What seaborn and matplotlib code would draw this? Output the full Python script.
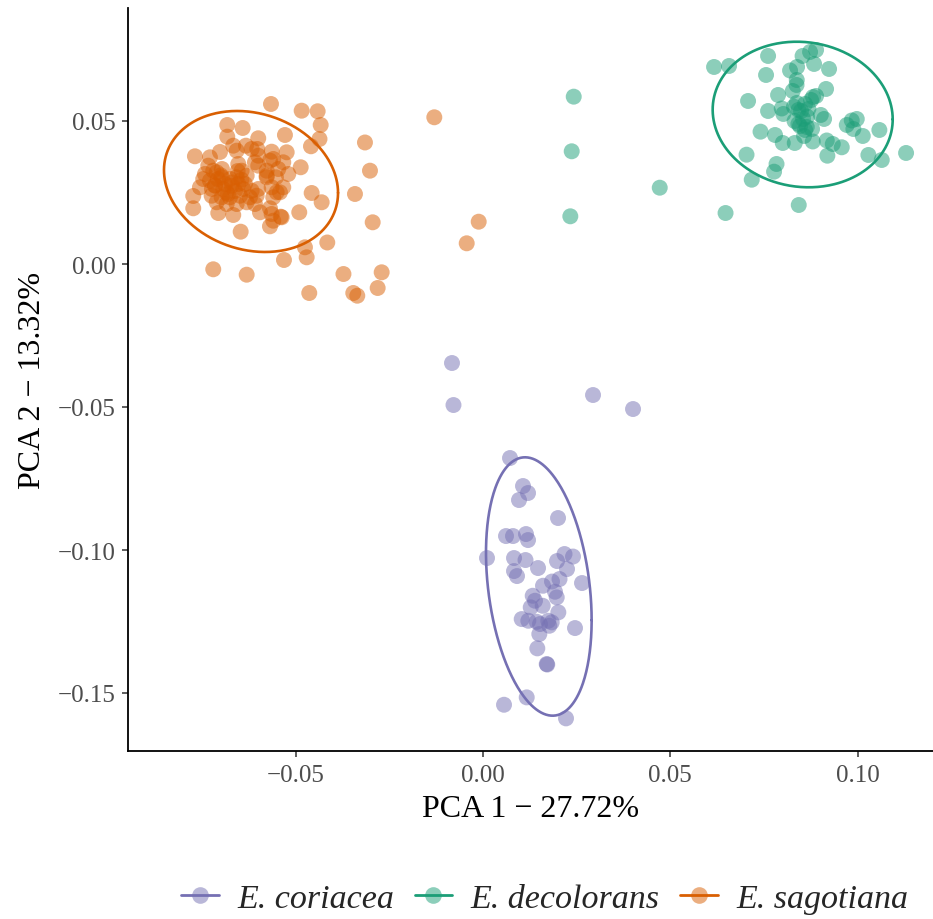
import numpy as np
import pandas as pd
import matplotlib
matplotlib.use("Agg")
import matplotlib.pyplot as plt
from matplotlib.lines import Line2D
from matplotlib.legend_handler import HandlerTuple
import seaborn as sns

# ---------------- data ----------------
species = ["E. coriacea", "E. decolorans", "E. sagotiana"]
colors = ["#7570B3", "#1B9E77", "#D95F02"]

coriacea_x = [-0.00828, -0.00788, 0.02937, 0.04005, 0.00721, 0.01068, 0.01202, 0.00961, 0.02003,
              0.00614, 0.00801, 0.01148, 0.01202, 0.00107, 0.00828, 0.01135, 0.01469, 0.00828,
              0.00908, 0.01976, 0.02176, 0.02403, 0.02243, 0.02643, 0.01602, 0.01842, 0.02043,
              0.01922, 0.01968, 0.01327, 0.01388, 0.01274, 0.01594, 0.02011, 0.01033, 0.01210,
              0.01434, 0.01522, 0.01743, 0.01834, 0.01770, 0.02456, 0.01503, 0.01450, 0.01701,
              0.01715, 0.01167, 0.00561, 0.02216]
coriacea_y = [-0.03462, -0.04931, -0.04581, -0.05071, -0.06784, -0.07763, -0.08008, -0.08253, -0.08882,
              -0.09512, -0.09512, -0.09442, -0.09652, -0.10281, -0.10281, -0.10351, -0.10631, -0.10736,
              -0.10911, -0.10386, -0.10141, -0.10229, -0.10666, -0.11155, -0.11250, -0.11103, -0.11016,
              -0.11459, -0.11656, -0.11600, -0.11774, -0.12006, -0.11950, -0.12180, -0.12415, -0.12474,
              -0.12509, -0.12589, -0.12474, -0.12530, -0.12649, -0.12729, -0.12939, -0.13439, -0.13988,
              -0.14005, -0.15153, -0.15411, -0.15887]

decolorans_x = [0.06168, 0.06568, 0.07610, 0.07556, 0.08531, 0.08731, 0.08891, 0.08838, 0.09238,
                0.08197, 0.08384, 0.08376, 0.08370, 0.08269, 0.07076, 0.07877, 0.07610, 0.07975,
                0.08018, 0.08376, 0.08419, 0.08597, 0.08686, 0.08758, 0.08891, 0.09158, 0.08317,
                0.08464, 0.08643, 0.08597, 0.08784, 0.09017, 0.09105, 0.07409, 0.07796, 0.08002,
                0.08322, 0.08571, 0.08803, 0.09177, 0.09337, 0.09577, 0.09193, 0.09711, 0.09844,
                0.09978, 0.09887, 0.10138, 0.10581, 0.10288, 0.10645, 0.11294, 0.07035, 0.07836,
                0.07770, 0.07174, 0.08429, 0.06475, 0.02422, 0.02368, 0.02331, 0.04718, 0.08811,
                0.08491, 0.08544, 0.08420, 0.08650, 0.08300]
decolorans_y = [0.06889, 0.06924, 0.07274, 0.06609, 0.07274, 0.07414, 0.07484, 0.06994, 0.06819,
                0.06767, 0.06889, 0.06434, 0.06260, 0.06050, 0.05700, 0.05910, 0.05350, 0.05438,
                0.05246, 0.05630, 0.05385, 0.05595, 0.05420, 0.05735, 0.05875, 0.06120, 0.05001,
                0.04826, 0.04791, 0.04686, 0.04721, 0.05211, 0.05071, 0.04627, 0.04511, 0.04231,
                0.04231, 0.04476, 0.04284, 0.04319, 0.04196, 0.04081, 0.03787, 0.04861, 0.05018,
                0.05071, 0.04721, 0.04476, 0.04686, 0.03812, 0.03637, 0.03882, 0.03822, 0.03497,
                0.03228, 0.02948, 0.02063, 0.01783, 0.05851, 0.03941, 0.01668, 0.02668, 0.05840,
                0.05350, 0.05071, 0.04900, 0.05150, 0.05500]

sagotiana_x = [-0.05660, -0.04841, -0.04414, -0.04333, -0.04365, -0.04592, -0.05287, -0.05241, -0.05642,
               -0.05599, -0.05687, -0.04867, -0.05198, -0.05527, -0.05775, -0.05332, -0.05420, -0.05599,
               -0.04574, -0.04307, -0.04905, -0.05401, -0.05687, -0.05599, -0.03151, -0.03017, -0.03418,
               -0.02945, -0.04157, -0.04753, -0.04707, -0.05313, -0.03725, -0.02705, -0.02812, -0.04638,
               -0.03463, -0.03356, -0.01300, -0.00115, -0.00435, -0.07201, -0.06309, -0.06827, -0.06416,
               -0.06827, -0.06000, -0.07690, -0.07289, -0.07022, -0.06667, -0.06576, -0.06328, -0.06176,
               -0.06026, -0.06000, -0.06533, -0.06443, -0.06088, -0.06000, -0.07334, -0.07201, -0.07110,
               -0.06977, -0.07468, -0.07289, -0.05775, -0.05465, -0.05332, -0.06755, -0.06576, -0.06309,
               -0.05775, -0.07156, -0.06934, -0.06710, -0.06533, -0.07556, -0.06400, -0.06176, -0.06000,
               -0.05642, -0.07735, -0.07244, -0.06977, -0.06755, -0.06488, -0.06221, -0.06042, -0.05508,
               -0.07110, -0.06843, -0.06576, -0.06309, -0.06088, -0.07735, -0.07067, -0.06667, -0.05954,
               -0.05687, -0.05642, -0.05375, -0.06469, -0.07423, -0.07076, -0.06889, -0.06622, -0.07236,
               -0.06809, -0.06355, -0.06969, -0.07000, -0.06700, -0.06450, -0.06850, -0.07150, -0.06550]
sagotiana_y = [0.05595, 0.05361, 0.05340, 0.04861, 0.04371, 0.04116, 0.04511, 0.03906, 0.03927,
               0.03672, 0.03612, 0.03382, 0.03147, 0.03032, 0.03088, 0.02682, 0.02507, 0.02332,
               0.02483, 0.02158, 0.01808, 0.01654, 0.01318, 0.01514, 0.04249, 0.03263, 0.02448,
               0.01458, 0.00752, 0.00584, 0.00234, 0.00140, -0.00350, -0.00290, -0.00839, -0.01014,
               -0.01014, -0.01109, 0.05130, 0.01479, 0.00724, -0.00185, -0.00374, 0.04861, 0.04756,
               0.04452, 0.04396, 0.03766, 0.03731, 0.03917, 0.04137, 0.03962, 0.04137, 0.04022,
               0.04022, 0.03787, 0.03497, 0.03263, 0.03556, 0.03438, 0.03438, 0.03263, 0.03207,
               0.03032, 0.02972, 0.02913, 0.03263, 0.03322, 0.03556, 0.02972, 0.03032, 0.03088,
               0.03032, 0.02738, 0.02623, 0.02738, 0.02798, 0.02682, 0.02623, 0.02563, 0.02623,
               0.02682, 0.02378, 0.02388, 0.02332, 0.02332, 0.02388, 0.02332, 0.02388, 0.02507,
               0.02158, 0.02098, 0.02098, 0.02158, 0.02098, 0.01948, 0.01783, 0.01714, 0.01808,
               0.01948, 0.01749, 0.01633, 0.01130, 0.03147, 0.02972, 0.02798, 0.02553, 0.02623,
               0.02448, 0.02798, 0.03322, 0.03100, 0.02850, 0.02950, 0.02500, 0.02750, 0.03250]

# ellipse parameters: centre, half x-extent, half y-extent,
# x offset of the topmost point from the centre
ell_cx = [0.01490, 0.08534, -0.06193]
ell_cy = [-0.11276, 0.05227, 0.02885]
ell_w = [0.01410, 0.02403, 0.02323]
ell_h = [0.04517, 0.02545, 0.02465]
ell_dx = [-0.00368, -0.0016, -0.00374]

x_ticks = [-0.05, 0.00, 0.05, 0.10]
y_ticks = [-0.15, -0.10, -0.05, 0.00, 0.05]
x_label = "PCA 1 \u2212 27.72%"
y_label = "PCA 2 \u2212 13.32%"

# ---------------- build table ----------------
df = pd.concat([
    pd.DataFrame({"PC1": coriacea_x, "PC2": coriacea_y, "species": species[0]}),
    pd.DataFrame({"PC1": decolorans_x, "PC2": decolorans_y, "species": species[1]}),
    pd.DataFrame({"PC1": sagotiana_x, "PC2": sagotiana_y, "species": species[2]}),
], ignore_index=True)

# ---------------- style ----------------
sns.set_theme(style="ticks")
plt.rcParams["font.family"] = ["Liberation Serif", "DejaVu Serif"]
plt.rcParams["axes.unicode_minus"] = True

fig = plt.figure(figsize=(9.33, 9.2), dpi=100)
ax = fig.add_axes([128 / 933, 1 - 752 / 920, (933 - 128) / 933, (752 - 9) / 920])

palette = dict(zip(species, colors))
sns.scatterplot(data=df, x="PC1", y="PC2", hue="species", palette=palette,
                hue_order=species, s=132, alpha=0.5, linewidth=0, legend=False, ax=ax)

t = np.linspace(0, 2 * np.pi, 400)
for i, sp in enumerate(species):
    cov = np.array([[ell_w[i] ** 2, ell_dx[i] * ell_h[i]],
                    [ell_dx[i] * ell_h[i], ell_h[i] ** 2]])
    L = np.linalg.cholesky(cov)
    pts = L @ np.vstack([np.cos(t), np.sin(t)])
    ax.plot(ell_cx[i] + pts[0], ell_cy[i] + pts[1], color=colors[i], lw=1.9)

ax.set_xlim((128 - 483) / 3746, (933 - 483) / 3746)
ax.set_ylim((265 - 752) / 2860, (265 - 9) / 2860)
ax.set_xticks(x_ticks)
ax.set_yticks(y_ticks)
ax.set_xticklabels([f"{v:.2f}".replace("-", "\u2212") for v in x_ticks])
ax.set_yticklabels([f"{v:.2f}".replace("-", "\u2212") for v in y_ticks])
ax.tick_params(axis="both", labelsize=18, labelcolor="#4D4D4D", color="#333333",
               length=4, width=1.1, pad=5)
ax.set_xlabel(x_label, fontsize=23, color="black", labelpad=6)
ax.set_ylabel(y_label, fontsize=23, color="black", labelpad=8)
for side in ["top", "right"]:
    ax.spines[side].set_visible(False)
for side in ["left", "bottom"]:
    ax.spines[side].set_color("black")
    ax.spines[side].set_linewidth(1.3)

handles = []
for c in colors:
    ln = Line2D([], [], color=c, lw=2.0)
    mk = Line2D([], [], ls="", marker="o", ms=12, color=c, alpha=0.5, markeredgewidth=0)
    handles.append((ln, mk))
fig.legend(handles, species, handler_map={tuple: HandlerTuple(ndivide=1)},
           loc="center", bbox_to_anchor=(0.584, 0.022), ncol=3, frameon=False,
           prop={"family": "Liberation Serif", "style": "italic", "size": 24.5},
           handlelength=1.1, handletextpad=0.55, columnspacing=0.6)

fig.savefig("out.png", dpi=100)
